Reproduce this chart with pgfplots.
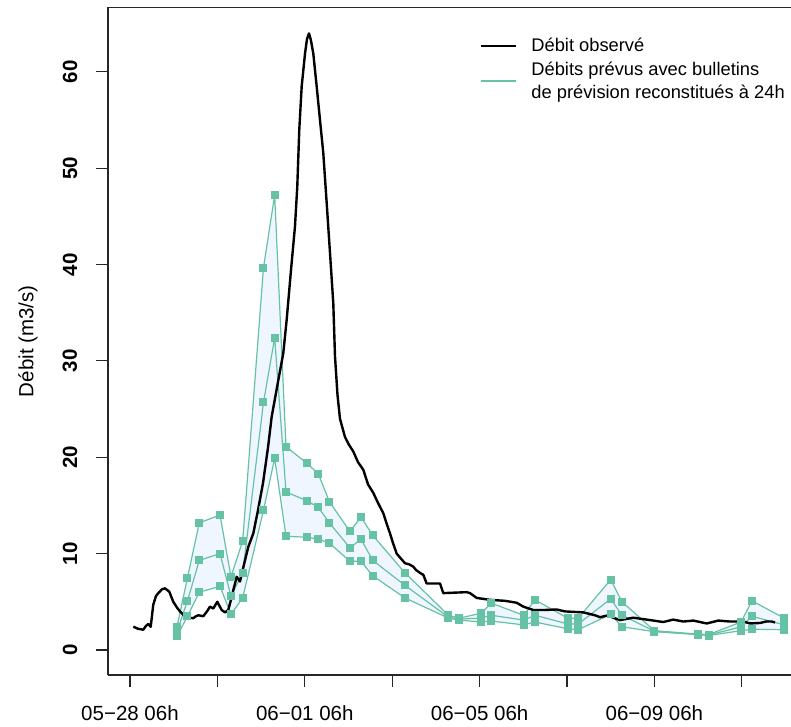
\documentclass[border=0pt]{standalone}
\usepackage{fontspec}
\setmainfont{Liberation Sans}
\usepackage{pgfplots}
\usepackage{pgfplotstable}
\pgfplotsset{compat=1.18}
\usepgfplotslibrary{fillbetween}
\definecolor{fgreen}{RGB}{102,194,165}
\definecolor{fblue}{RGB}{240,246,255}
\newcommand\axfont{\fontsize{20.5}{24}\selectfont}
\newcommand\legfont{\fontsize{18.3}{23}\selectfont}

\pgfplotstableread{
x U M L
1.075 2.4 1.9 1.4
1.316 7.5 5.1 3.5
1.586 13.2 9.3 6.0
2.060 14.0 10.0 6.6
2.311 7.6 5.6 3.7
2.579 11.3 8.0 5.4
3.055 39.7 25.7 14.5
3.311 47.2 32.4 19.9
3.570 21.1 16.4 11.8
4.043 19.4 15.5 11.7
4.309 18.3 14.8 11.5
4.561 15.4 13.2 11.1
5.034 12.3 10.6 9.2
5.286 13.8 11.5 9.2
5.554 11.9 9.3 7.7
6.293 8.0 6.7 5.4
7.288 3.6 3.4 3.3
7.535 3.3 3.2 3.1
8.021 3.8 3.3 2.9
8.272 4.85 3.6 3.0
9.009 3.6 3.1 2.6
9.268 5.2 3.6 2.9
10.016 3.3 2.7 2.2
10.259 3.3 2.7 2.1
11.000 7.3 5.3 3.7
11.259 5.0 3.6 2.4
12.000 2.0 1.95 1.9
12.991 1.65 1.6 1.6
13.243 1.6 1.55 1.5
13.982 2.9 2.4 2.0
14.233 5.1 3.5 2.15
14.970 3.3 2.6 2.1
}\fcst

\pgfplotstableread{
x q
0.076 2.42
0.183 2.2
0.304 2.1
0.366 2.5
0.419 2.7
0.474 2.4
0.533 4.7
0.595 5.6
0.648 5.9
0.732 6.3
0.801 6.4
0.899 6.05
0.991 5.0
1.076 4.4
1.144 4.0
1.236 3.6
1.334 3.35
1.449 3.3
1.510 3.5
1.563 3.6
1.677 3.5
1.762 4.0
1.831 4.5
1.906 4.3
1.998 5.0
2.098 4.15
2.174 3.9
2.249 4.15
2.311 5.2
2.364 6.2
2.442 7.6
2.517 7.1
2.574 8.2
2.632 9.3
2.707 10.7
2.822 12.1
2.929 14.5
3.043 17.3
3.158 21.0
3.242 24.2
3.394 28.0
3.508 30.8
3.586 34.3
3.684 39.4
3.776 44.0
3.828 48.1
3.874 54.0
3.929 58.5
4.005 61.9
4.050 63.4
4.096 64.0
4.140 63.3
4.195 61.9
4.272 58.5
4.348 55.0
4.423 51.6
4.501 46.4
4.577 41.2
4.652 36.0
4.691 30.5
4.748 26.5
4.805 24.0
4.920 22.1
5.011 21.3
5.110 20.6
5.217 19.5
5.339 18.7
5.446 17.2
5.568 16.3
5.682 15.2
5.796 14.2
5.881 13.0
5.950 12.1
6.018 11.1
6.103 10.0
6.178 9.6
6.293 9.0
6.384 8.9
6.483 8.65
6.545 8.3
6.636 8.0
6.712 7.8
6.789 6.9
7.094 6.9
7.169 5.9
7.705 6.0
7.780 5.9
7.934 5.4
8.238 5.2
8.581 5.1
8.849 4.9
9.000 4.5
9.229 4.15
9.497 4.15
9.764 4.2
9.954 4.0
10.373 3.9
10.641 3.6
10.755 3.4
10.945 3.6
11.030 3.4
11.213 3.1
11.517 3.35
11.670 3.25
11.899 3.1
12.204 2.9
12.432 3.15
12.661 2.95
12.890 3.05
13.197 2.75
13.462 3.05
13.730 2.95
14.034 2.95
14.188 2.75
14.416 2.8
14.554 2.95
14.684 2.95
14.760 2.85
}\obs

\begin{document}
\begin{tikzpicture}
\begin{axis}[
  at={(108pt,51pt)}, anchor=south west,
  scale only axis, width=683pt, height=667.6pt,
  xmin=-0.503, xmax=15.126, ymin=-2.6, ymax=66.7,
  axis x line=box, axis y line=left,
  axis line style={line width=1.1pt, black!85, -},
  every tick/.style={line width=1.1pt, black!85},
  tick align=outside, major tick length=12pt,
  xtick pos=bottom, ytick pos=left,
  xtick={0,2,...,14},
  xticklabels={05−28 06h,,06−01 06h,,06−05 06h,,06−09 06h,},
  ytick={0,10,...,60},
  /pgf/number format/assume math mode=true,
  xticklabel style={font=\axfont, anchor=north, inner sep=0pt},
  yticklabel style={font=\axfont\bfseries, rotate=90, anchor=south, inner sep=0pt},
  xticklabel shift=18.4pt,
  yticklabel shift=18.6pt,
  ylabel={Débit (m3/s)},
  ylabel style={font=\axfont, at={(axis description cs:-0.1171,0.5)}, anchor=center},
  legend image code/.code={\draw[#1] (0pt,0pt) -- (35pt,0pt);},
  legend style={draw=none, fill=none, font=\legfont, at={(axis description cs:0.5447,0.954)}, anchor=north west,
    inner sep=0pt, row sep=8.6pt, column sep=14pt, nodes={inner sep=0pt}, cells={anchor=west, align=left}},
]
\addplot[draw=none, name path=U, forget plot] table[x=x,y=U]{\fcst};
\addplot[draw=none, name path=L, forget plot] table[x=x,y=L]{\fcst};
\addplot[fblue, forget plot] fill between[of=U and L];
\addplot[fgreen, line width=1.2pt, mark=square*, mark size=3.4pt, mark options={solid}, forget plot] table[x=x,y=U]{\fcst};
\addplot[fgreen, line width=1.2pt, mark=square*, mark size=3.4pt, mark options={solid}, forget plot] table[x=x,y=M]{\fcst};
\addplot[fgreen, line width=1.2pt, mark=square*, mark size=3.4pt, mark options={solid}, forget plot] table[x=x,y=L]{\fcst};
\addplot[black, line width=2.4pt, line join=round, forget plot] table[x=x,y=q]{\obs};
\addlegendimage{black, line width=2.2pt}
\addlegendentry{Débit observé}
\addlegendimage{fgreen, line width=1.3pt}
\addlegendentry{Débits prévus avec bulletins\\de prévision reconstitués à 24h}
\end{axis}
\pgfresetboundingbox
\path[use as bounding box] (0pt,0pt) rectangle (791pt,726pt);
\end{tikzpicture}
\end{document}
